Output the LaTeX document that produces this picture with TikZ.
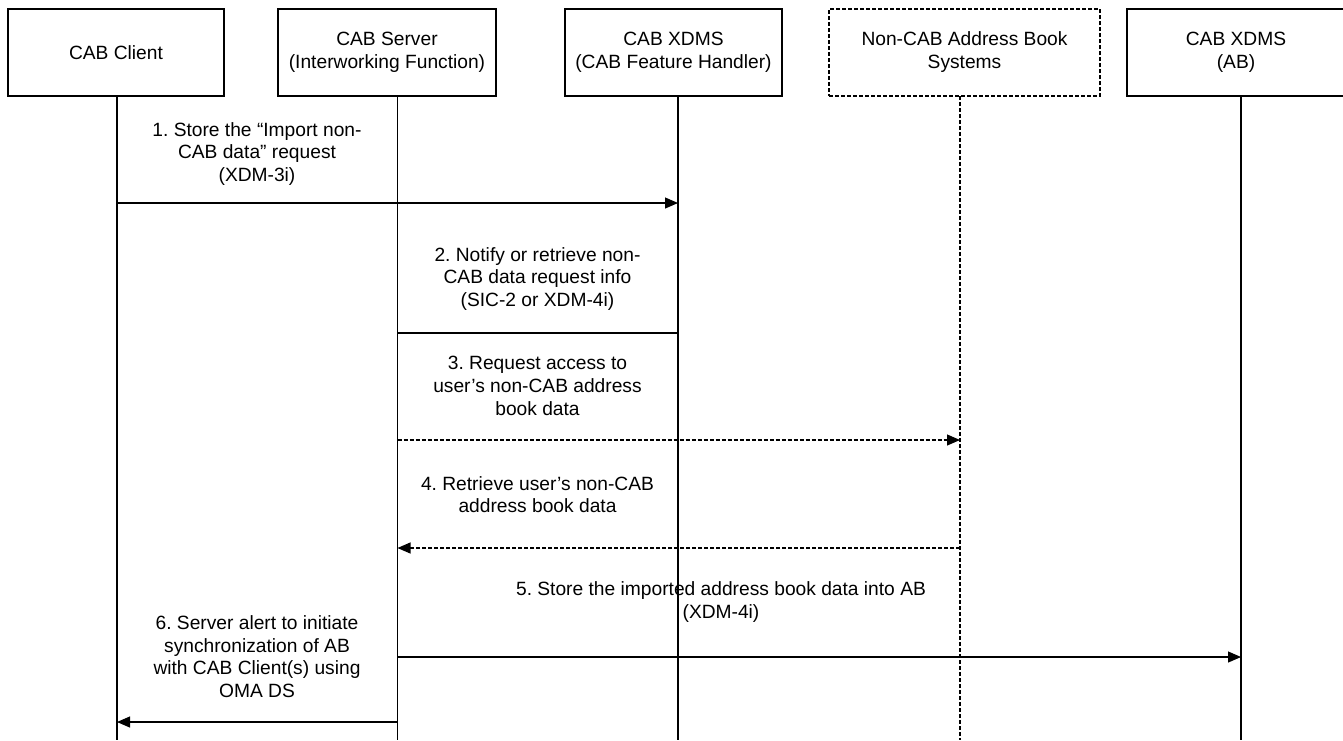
\documentclass[tikz,border=0pt]{standalone}
\usepackage{fontspec}
\setmainfont{Liberation Sans}
\usetikzlibrary{arrows.meta}
\frenchspacing
\begin{document}
\begin{tikzpicture}[x=1pt, y=-1pt,
    box/.style={draw, line width=1.1pt, inner sep=0pt, align=center, font=\fontsize{19.2}{23}\selectfont},
    lbl/.style={align=center, inner sep=0pt, font=\fontsize{19.2}{22.7}\selectfont},
    msg/.style={line width=1.1pt, -{Stealth[inset=0pt, length=13pt, width=11pt]}},
    dsh/.style={dash pattern=on 4pt off 2pt}]
  \useasboundingbox (0,0) rectangle (1343,740);
  \node[box, minimum width=216, minimum height=87] (client) at (116,52.5) {CAB Client};
  \node[box, minimum width=218, minimum height=87] (server) at (387,52.5) {CAB Server\\(Interworking Function)};
  \node[box, minimum width=217, minimum height=87] (xdms) at (673.5,52.5) {CAB XDMS\\(CAB Feature Handler)};
  \node[box, dsh, minimum width=271, minimum height=87] (noncab) at (964.5,52.5) {Non-CAB Address Book\\Systems};
  \node[box, minimum width=218, minimum height=87] (ab) at (1236,52.5) {CAB XDMS\\(AB)};
  \coordinate (client-top) at (117,96);
  \coordinate (server-top) at (397.5,96);
  \coordinate (xdms-top) at (678,96);
  \coordinate (noncab-top) at (960,96);
  \coordinate (ab-top) at (1241,96);
  \coordinate (client-bot) at (117,740);
  \coordinate (server-bot) at (397.5,740);
  \coordinate (xdms-bot) at (678,740);
  \coordinate (noncab-bot) at (960,740);
  \coordinate (ab-bot) at (1241,740);
  \draw[line width=1.1pt] (client-top) -- (client-bot);
  \draw[line width=1.1pt] (server-top) -- (server-bot);
  \draw[line width=1.1pt] (xdms-top) -- (xdms-bot);
  \draw[line width=1.1pt, dsh] (noncab-top) -- (noncab-bot);
  \draw[line width=1.1pt] (ab-top) -- (ab-bot);
  \coordinate (row1) at (0,203);
  \coordinate (row2) at (0,333);
  \coordinate (row3) at (0,440);
  \coordinate (row4) at (0,548);
  \coordinate (row5) at (0,657);
  \coordinate (row6) at (0,722);
  \node[lbl] (t1) at (257,154) {1. Store the “Import non-\\CAB data” request\\(XDM-3i)};
  \node[lbl] (t2) at (537.5,279) {2. Notify or retrieve non-\\CAB data request info\\(SIC-2 or XDM-4i)};
  \node[lbl] (t3) at (537.5,386) {3. Request access to\\user’s non-CAB address\\book data};
  \node[lbl] (t4) at (537.5,494.5) {4. Retrieve user’s non-CAB\\address book data};
  \node[lbl] (t5) at (721,602) {5. Store the imported address book data into AB\\(XDM-4i)};
  \node[lbl] (t6) at (257,656.5) {6. Server alert to initiate\\synchronization of AB\\with CAB Client(s) using\\OMA DS};
  \draw[msg] (client-bot |- row1) -- (xdms-bot |- row1);
  \draw[line width=1.1pt] (server-bot |- row2) -- (xdms-bot |- row2);
  \draw[msg, dsh] (server-bot |- row3) -- (noncab-bot |- row3);
  \draw[msg, dsh] (noncab-bot |- row4) -- (server-bot |- row4);
  \draw[msg] (server-bot |- row5) -- (ab-bot |- row5);
  \draw[msg] (server-bot |- row6) -- (client-bot |- row6);
\end{tikzpicture}
\end{document}
